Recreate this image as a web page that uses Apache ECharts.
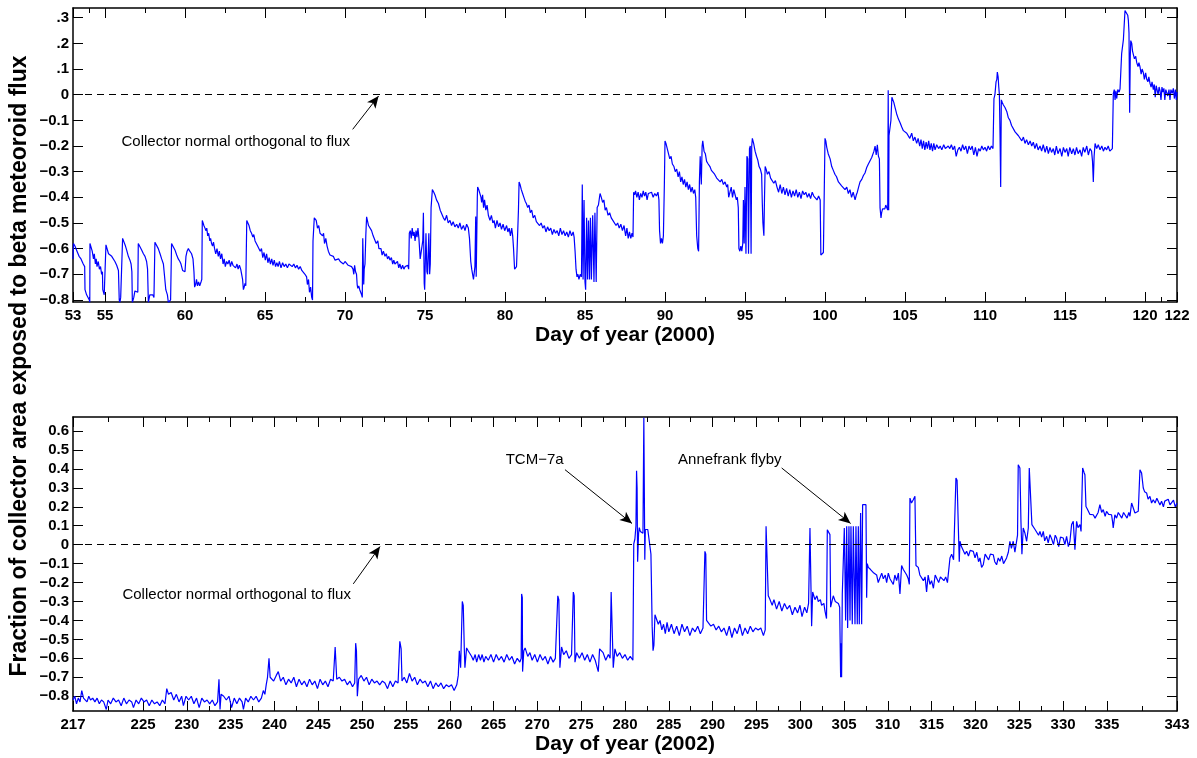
<!DOCTYPE html>
<html>
<head>
<meta charset="utf-8">
<script src="https://cdn.jsdelivr.net/npm/echarts@6/dist/echarts.min.js"></script>
<style>
html,body{margin:0;padding:0;background:#fff;}
#chart{width:1197px;height:758px;}
</style>
</head>
<body>
<div id="chart"></div>
<script>
// day of year 2000 -> fraction of collector area exposed
var top2000 = [
[53.00,-0.64],[53.03,-0.58],[53.12,-0.59],[53.25,-0.61],[53.38,-0.63],[53.5,-0.64],[53.64,-0.66],[53.73,-0.67],[53.75,-0.76],[53.85,-0.78],[53.95,-0.78],[54.02,-0.80],[54.05,-0.81],
[54.06,-0.58],[54.12,-0.58],[54.2,-0.61],[54.28,-0.64],[54.33,-0.62],[54.4,-0.66],[54.45,-0.64],[54.5,-0.67],[54.58,-0.65],[54.65,-0.68],[54.72,-0.67],[54.79,-0.70],[54.84,-0.69],[54.86,-0.76],[54.95,-0.78],[55.02,-0.775],
[55.06,-0.585],[55.12,-0.59],[55.22,-0.62],[55.31,-0.62],[55.42,-0.63],[55.52,-0.635],[55.62,-0.65],[55.73,-0.665],[55.84,-0.685],[55.89,-0.80],[55.93,-0.81],[55.98,-0.79],[56.06,-0.79],
[56.1,-0.56],[56.16,-0.565],[56.28,-0.59],[56.35,-0.605],[56.46,-0.63],[56.56,-0.645],[56.63,-0.66],[56.68,-0.69],[56.71,-0.81],[56.8,-0.79],[56.87,-0.765],[56.98,-0.765],[57.05,-0.77],
[57.08,-0.58],[57.14,-0.58],[57.29,-0.605],[57.4,-0.62],[57.5,-0.63],[57.6,-0.65],[57.66,-0.68],[57.71,-0.81],[57.8,-0.78],[57.9,-0.785],[57.98,-0.78],[58.06,-0.79],
[58.12,-0.575],[58.18,-0.58],[58.33,-0.60],[58.44,-0.62],[58.54,-0.64],[58.65,-0.66],[58.71,-0.70],[58.8,-0.76],[58.9,-0.78],[58.96,-0.81],[59.1,-0.80],
[59.16,-0.58],[59.25,-0.585],[59.37,-0.605],[59.48,-0.625],[59.58,-0.64],[59.68,-0.65],[59.75,-0.66],[59.85,-0.685],[59.95,-0.69],[60.0,-0.69],[60.06,-0.63],[60.13,-0.61],[60.21,-0.60],[60.3,-0.61],[60.41,-0.62],[60.5,-0.64],[60.56,-0.69],[60.6,-0.75],[60.66,-0.74],[60.72,-0.72],[60.78,-0.745],[60.85,-0.73],[60.92,-0.745],[61.0,-0.73],[61.05,-0.72],
[61.08,-0.49],[61.12,-0.49],[61.18,-0.51],[61.25,-0.52],[61.3,-0.53],[61.36,-0.52],[61.42,-0.55],[61.48,-0.54],[61.55,-0.57],[61.6,-0.56],[61.66,-0.58],[61.72,-0.59],[61.78,-0.575],[61.85,-0.60],[61.92,-0.62],[62.0,-0.60],[62.08,-0.63],[62.15,-0.61],[62.22,-0.64],[62.3,-0.62],[62.38,-0.66],[62.45,-0.64],[62.52,-0.67],[62.6,-0.65],[62.68,-0.66],[62.76,-0.645],[62.84,-0.67],[62.92,-0.65],[63.0,-0.665],[63.08,-0.66],[63.16,-0.675],[63.25,-0.66],[63.32,-0.68],[63.4,-0.665],[63.48,-0.68],[63.55,-0.675],[63.6,-0.72],[63.65,-0.76],[63.7,-0.75],[63.75,-0.735],[63.8,-0.745],
[63.86,-0.49],[63.92,-0.49],[64.0,-0.51],[64.08,-0.53],[64.16,-0.54],[64.24,-0.555],[64.3,-0.545],[64.38,-0.57],[64.46,-0.565],[64.54,-0.59],[64.62,-0.585],[64.7,-0.61],[64.78,-0.60],[64.86,-0.635],[64.94,-0.615],[65.02,-0.645],[65.1,-0.62],[65.18,-0.655],[65.26,-0.635],[65.34,-0.66],[65.42,-0.64],[65.5,-0.665],[65.58,-0.645],[65.66,-0.67],[65.74,-0.655],[65.82,-0.67],[65.9,-0.65],[66.0,-0.675],[66.1,-0.655],[66.2,-0.67],[66.3,-0.66],[66.4,-0.675],[66.5,-0.66],[66.6,-0.665],[66.7,-0.67],[66.8,-0.66],[66.9,-0.675],[67.0,-0.665],[67.1,-0.68],[67.2,-0.67],[67.3,-0.685],[67.4,-0.69],[67.5,-0.70],[67.6,-0.71],[67.65,-0.74],[67.72,-0.72],[67.78,-0.77],[67.85,-0.75],[67.92,-0.79],[67.97,-0.80],[68.0,-0.57],[68.04,-0.57],[68.08,-0.48],
[68.12,-0.475],[68.2,-0.49],[68.28,-0.52],[68.36,-0.51],[68.44,-0.54],[68.52,-0.535],[68.6,-0.55],[68.66,-0.54],[68.72,-0.58],[68.8,-0.56],[68.88,-0.59],[68.96,-0.61],[69.06,-0.625],[69.15,-0.62],[69.27,-0.63],[69.38,-0.645],[69.48,-0.65],[69.6,-0.64],[69.7,-0.65],[69.79,-0.645],[69.9,-0.66],[70.0,-0.65],[70.1,-0.655],[70.2,-0.665],[70.3,-0.67],[70.41,-0.67],[70.5,-0.68],[70.55,-0.70],[70.6,-0.665],[70.66,-0.69],[70.72,-0.70],[70.76,-0.74],[70.8,-0.755],[70.86,-0.745],[70.92,-0.76],[70.98,-0.765],[71.04,-0.78],[71.08,-0.79],[71.11,-0.56],[71.17,-0.74],[71.2,-0.68],[71.25,-0.66],[71.3,-0.55],[71.35,-0.476],
[71.4,-0.48],[71.47,-0.51],[71.56,-0.515],[71.66,-0.53],[71.76,-0.55],[71.87,-0.555],[71.95,-0.58],[72.05,-0.57],[72.12,-0.60],[72.18,-0.595],[72.25,-0.60],[72.32,-0.625],[72.4,-0.61],[72.5,-0.63],[72.58,-0.62],[72.66,-0.64],[72.74,-0.63],[72.81,-0.645],[72.9,-0.635],[72.98,-0.66],[73.05,-0.645],[73.12,-0.66],[73.2,-0.665],[73.28,-0.65],[73.36,-0.675],[73.43,-0.66],[73.52,-0.68],[73.6,-0.665],[73.68,-0.68],[73.76,-0.67],[73.84,-0.675],[73.92,-0.665],[73.98,-0.68],
[74.02,-0.54],[74.08,-0.53],[74.14,-0.56],[74.2,-0.52],[74.26,-0.55],[74.32,-0.535],[74.38,-0.57],[74.44,-0.53],[74.5,-0.555],[74.56,-0.52],[74.62,-0.56],[74.66,-0.60],[74.7,-0.64],[74.78,-0.645],[74.86,-0.57],[74.9,-0.46],[74.95,-0.735],[74.98,-0.76],[75.06,-0.54],[75.12,-0.69],[75.16,-0.70],[75.24,-0.54],[75.29,-0.70],[75.33,-0.66],[75.38,-0.44],[75.46,-0.37],
[75.55,-0.38],[75.63,-0.392],[75.72,-0.41],[75.84,-0.424],[75.95,-0.45],[76.04,-0.45],[76.15,-0.48],[76.25,-0.49],[76.35,-0.47],[76.45,-0.50],[76.56,-0.49],[76.66,-0.51],[76.76,-0.495],[76.87,-0.515],[76.98,-0.505],[77.08,-0.52],[77.18,-0.50],[77.28,-0.525],[77.4,-0.51],[77.5,-0.53],[77.6,-0.505],[77.71,-0.52],[77.78,-0.56],[77.83,-0.56],[77.86,-0.65],[77.92,-0.68],[77.98,-0.68],[78.03,-0.72],[78.06,-0.72],[78.12,-0.67],[78.17,-0.475],[78.2,-0.71],[78.23,-0.71],[78.27,-0.40],[78.29,-0.36],[78.36,-0.37],[78.44,-0.366],[78.5,-0.40],[78.54,-0.42],[78.6,-0.39],[78.66,-0.44],[78.72,-0.41],[78.8,-0.45],[78.88,-0.43],[78.96,-0.47],[79.06,-0.49],[79.15,-0.47],[79.24,-0.50],[79.32,-0.49],[79.4,-0.52],[79.5,-0.49],[79.6,-0.515],[79.69,-0.50],[79.78,-0.525],[79.88,-0.505],[79.98,-0.53],[80.1,-0.51],[80.18,-0.535],[80.26,-0.52],[80.34,-0.55],[80.42,-0.52],[80.48,-0.55],[80.53,-0.595],[80.6,-0.68],[80.66,-0.68],[80.72,-0.67],[80.79,-0.675],[80.84,-0.45],[80.88,-0.34],[80.94,-0.35],[81.02,-0.37],[81.1,-0.385],[81.18,-0.40],[81.26,-0.415],[81.34,-0.425],[81.42,-0.44],[81.5,-0.43],[81.58,-0.46],[81.67,-0.45],[81.76,-0.48],[81.86,-0.47],[81.96,-0.495],[82.06,-0.49],[82.16,-0.51],[82.26,-0.50],[82.36,-0.52],[82.46,-0.51],[82.56,-0.535],[82.66,-0.515],[82.76,-0.53],[82.86,-0.52],[82.96,-0.545],[83.06,-0.525],[83.16,-0.54],[83.26,-0.53],[83.36,-0.55],[83.46,-0.52],[83.56,-0.545],[83.66,-0.53],[83.76,-0.55],[83.86,-0.535],[83.96,-0.555],[84.06,-0.53],[84.16,-0.55],[84.26,-0.535],[84.32,-0.555],[84.38,-0.61],
[84.44,-0.68],[84.5,-0.71],[84.56,-0.70],[84.62,-0.72],[84.7,-0.70],[84.78,-0.71],[84.83,-0.35],[84.88,-0.72],[84.94,-0.41],[85.0,-0.73],[85.04,-0.76],[85.1,-0.48],[85.16,-0.72],[85.22,-0.49],[85.28,-0.72],[85.34,-0.48],[85.4,-0.72],[85.48,-0.47],[85.56,-0.73],[85.62,-0.46],[85.7,-0.73],[85.76,-0.44],[85.84,-0.43],[85.94,-0.385],
[86.02,-0.40],[86.1,-0.42],[86.18,-0.41],[86.26,-0.45],[86.34,-0.44],[86.44,-0.47],[86.54,-0.46],[86.64,-0.48],[86.74,-0.49],[86.84,-0.485],[86.94,-0.51],[87.04,-0.50],[87.14,-0.52],[87.24,-0.505],[87.34,-0.53],[87.44,-0.51],[87.54,-0.55],[87.62,-0.52],[87.7,-0.56],[87.78,-0.535],[87.86,-0.56],[87.94,-0.54],[88.0,-0.555],
[88.04,-0.38],[88.1,-0.39],[88.16,-0.375],[88.24,-0.40],[88.32,-0.38],[88.4,-0.41],[88.48,-0.385],[88.56,-0.40],[88.64,-0.375],[88.72,-0.395],[88.8,-0.38],[88.88,-0.41],[88.96,-0.385],[89.06,-0.39],[89.16,-0.38],[89.26,-0.40],[89.36,-0.385],[89.46,-0.395],[89.56,-0.38],[89.62,-0.41],[89.66,-0.53],[89.72,-0.58],[89.78,-0.56],[89.84,-0.58],[89.9,-0.55],[89.96,-0.35],
[90.0,-0.18],[90.06,-0.19],[90.14,-0.21],[90.21,-0.205],[90.3,-0.25],[90.38,-0.24],[90.46,-0.27],[90.56,-0.28],[90.64,-0.30],[90.73,-0.29],[90.82,-0.32],[90.9,-0.30],[90.98,-0.34],[91.06,-0.32],[91.14,-0.35],[91.22,-0.33],[91.3,-0.36],[91.38,-0.34],[91.46,-0.37],[91.54,-0.35],[91.62,-0.38],[91.7,-0.36],[91.78,-0.385],[91.86,-0.37],[91.92,-0.40],[91.98,-0.55],[92.05,-0.60],[92.1,-0.61],[92.15,-0.34],[92.2,-0.24],[92.27,-0.35],[92.32,-0.20],[92.36,-0.18],
[92.44,-0.22],[92.52,-0.23],[92.6,-0.26],[92.7,-0.27],[92.81,-0.28],[92.9,-0.295],[93.0,-0.30],[93.1,-0.31],[93.23,-0.325],[93.34,-0.32],[93.45,-0.34],[93.55,-0.33],[93.65,-0.35],[93.75,-0.34],[93.86,-0.36],[93.92,-0.35],[93.98,-0.40],[94.06,-0.38],[94.14,-0.36],[94.22,-0.40],[94.3,-0.37],[94.38,-0.39],[94.46,-0.41],[94.52,-0.40],[94.58,-0.44],[94.62,-0.60],[94.68,-0.61],[94.74,-0.59],[94.8,-0.61],[94.86,-0.58],[94.9,-0.41],[94.95,-0.58],[95.0,-0.36],[95.06,-0.62],[95.12,-0.24],[95.17,-0.25],[95.22,-0.62],[95.28,-0.21],[95.33,-0.20],[95.38,-0.62],[95.42,-0.20],[95.46,-0.17],
[95.54,-0.19],[95.63,-0.22],[95.72,-0.24],[95.8,-0.255],[95.88,-0.28],[95.96,-0.29],[96.04,-0.31],[96.08,-0.42],[96.12,-0.50],[96.18,-0.55],[96.22,-0.40],[96.26,-0.28],[96.32,-0.29],[96.4,-0.31],[96.5,-0.30],[96.6,-0.325],[96.7,-0.33],[96.8,-0.345],[96.9,-0.335],[97.0,-0.36],[97.1,-0.38],[97.2,-0.35],[97.3,-0.385],[97.4,-0.36],[97.5,-0.39],[97.6,-0.365],[97.7,-0.395],[97.8,-0.37],[97.9,-0.40],[98.0,-0.375],[98.1,-0.395],[98.2,-0.37],[98.3,-0.40],[98.4,-0.38],[98.5,-0.405],[98.6,-0.375],[98.7,-0.39],[98.8,-0.38],[98.9,-0.40],[99.0,-0.385],[99.1,-0.405],[99.2,-0.38],[99.3,-0.395],[99.4,-0.39],[99.5,-0.41],[99.6,-0.395],[99.7,-0.41],[99.74,-0.625],[99.82,-0.625],[99.9,-0.615],[99.96,-0.61],
[100.0,-0.17],[100.05,-0.18],[100.11,-0.205],[100.2,-0.23],[100.32,-0.25],[100.42,-0.28],[100.52,-0.295],[100.62,-0.31],[100.72,-0.32],[100.84,-0.34],[100.94,-0.335],[101.04,-0.355],[101.15,-0.35],[101.25,-0.37],[101.36,-0.36],[101.46,-0.385],[101.56,-0.37],[101.66,-0.40],[101.76,-0.38],[101.88,-0.41],[101.96,-0.39],[102.02,-0.38],[102.1,-0.36],[102.19,-0.34],[102.3,-0.33],[102.4,-0.315],[102.5,-0.305],[102.6,-0.285],[102.71,-0.27],[102.8,-0.265],[102.92,-0.245],[103.0,-0.24],[103.06,-0.22],[103.13,-0.20],[103.2,-0.235],[103.27,-0.195],[103.34,-0.24],[103.4,-0.25],[103.44,-0.44],[103.5,-0.48],[103.54,-0.46],[103.6,-0.445],[103.66,-0.44],[103.74,-0.445],[103.8,-0.43],[103.86,-0.44],[103.92,-0.45],[103.95,0.017],[103.98,-0.45],[104.0,-0.16],[104.06,-0.165],[104.12,-0.10],[104.18,-0.01],
[104.23,-0.01],[104.3,-0.03],[104.38,-0.05],[104.48,-0.075],[104.59,-0.095],[104.7,-0.11],[104.79,-0.125],[104.9,-0.14],[105.0,-0.135],[105.11,-0.15],[105.2,-0.145],[105.3,-0.17],[105.42,-0.15],[105.52,-0.18],[105.62,-0.165],[105.73,-0.19],[105.82,-0.17],[105.92,-0.20],[106.0,-0.175],[106.08,-0.21],[106.16,-0.18],[106.24,-0.215],[106.32,-0.185],[106.4,-0.21],[106.48,-0.18],[106.56,-0.215],[106.64,-0.19],[106.72,-0.22],[106.8,-0.19],[106.88,-0.215],[106.98,-0.195],[107.1,-0.21],[107.2,-0.20],[107.3,-0.215],[107.42,-0.195],[107.52,-0.21],[107.61,-0.205],[107.7,-0.20],[107.8,-0.21],[107.9,-0.195],[108.0,-0.215],[108.1,-0.20],[108.2,-0.24],[108.3,-0.215],[108.4,-0.205],[108.5,-0.22],[108.6,-0.195],[108.7,-0.215],[108.8,-0.20],[108.9,-0.23],[109.0,-0.20],[109.1,-0.215],[109.2,-0.20],[109.3,-0.235],[109.4,-0.205],[109.5,-0.24],[109.6,-0.21],[109.7,-0.22],[109.8,-0.20],[109.9,-0.215],[110.0,-0.205],[110.1,-0.22],[110.2,-0.20],[110.3,-0.215],[110.4,-0.20],[110.5,-0.21],
[110.56,-0.015],[110.62,0.0],[110.69,0.05],[110.74,0.06],[110.77,0.088],[110.82,0.07],[110.86,0.03],[110.9,0.0],[110.94,-0.16],[110.98,-0.36],[111.02,-0.02],[111.08,-0.03],[111.15,-0.04],[111.25,-0.05],[111.36,-0.065],[111.46,-0.09],[111.56,-0.10],[111.66,-0.12],[111.77,-0.125],[111.88,-0.145],[111.98,-0.14],[112.09,-0.16],[112.2,-0.155],[112.3,-0.18],[112.4,-0.165],[112.5,-0.19],[112.6,-0.175],[112.71,-0.195],[112.82,-0.18],[112.92,-0.20],[113.02,-0.185],[113.12,-0.21],[113.22,-0.19],[113.32,-0.215],[113.44,-0.20],[113.54,-0.22],[113.64,-0.195],[113.76,-0.225],[113.86,-0.20],[113.96,-0.23],[114.06,-0.205],[114.16,-0.225],[114.27,-0.21],[114.36,-0.235],[114.46,-0.20],[114.56,-0.23],[114.69,-0.21],[114.8,-0.24],[114.9,-0.205],[115.0,-0.225],[115.11,-0.21],[115.2,-0.24],[115.3,-0.205],[115.42,-0.23],[115.52,-0.21],[115.62,-0.235],[115.72,-0.205],[115.82,-0.23],[115.94,-0.215],[116.04,-0.24],[116.14,-0.205],[116.24,-0.225],[116.36,-0.20],[116.46,-0.235],[116.56,-0.21],[116.66,-0.22],[116.72,-0.26],[116.77,-0.34],[116.82,-0.24],[116.88,-0.19],[116.98,-0.21],[117.08,-0.195],[117.19,-0.215],[117.3,-0.20],[117.4,-0.22],[117.5,-0.205],[117.6,-0.215],[117.7,-0.20],[117.8,-0.22],[117.9,-0.225],[117.96,-0.21],
[118.02,0.004],[118.08,0.02],[118.13,-0.02],[118.18,0.015],[118.23,-0.015],[118.3,0.02],[118.38,0.01],[118.44,0.023],[118.54,0.16],[118.65,0.215],[118.75,0.328],[118.8,0.334],[118.86,0.334],[118.92,0.31],[118.96,0.29],[119.0,0.24],[119.04,-0.07],[119.08,0.15],[119.11,0.211],[119.17,0.20],[119.22,0.17],[119.27,0.172],[119.34,0.14],[119.42,0.15],[119.48,0.126],[119.56,0.11],[119.62,0.125],[119.69,0.108],[119.76,0.08],[119.82,0.10],[119.9,0.085],[119.96,0.06],[120.04,0.085],[120.11,0.06],[120.18,0.05],[120.24,0.07],[120.31,0.045],[120.38,0.03],[120.44,0.05],[120.52,0.02],[120.58,0.04],[120.64,-0.01],[120.7,0.035],[120.76,0.03],[120.82,0.0],[120.88,0.03],[120.94,0.015],[121.0,-0.02],[121.06,0.03],[121.12,0.01],[121.18,0.025],[121.24,-0.02],[121.3,0.02],[121.36,0.025],[121.42,-0.005],[121.5,0.02],[121.56,-0.02],[121.62,0.02],[121.7,0.005],[121.77,0.025],[121.84,-0.015],[121.9,0.02],[121.96,-0.02],[122.0,0.01]
];

// day of year 2002 -> fraction of collector area exposed
var bot2002 = [
[217.0,-0.82],[217.2,-0.80],[217.4,-0.84],[217.6,-0.81],[217.8,-0.83],[218.0,-0.77],[218.2,-0.81],[218.4,-0.80],[218.6,-0.83],[218.8,-0.80],[219.0,-0.82],[219.25,-0.81],[219.5,-0.83],[219.75,-0.81],[220.0,-0.84],[220.25,-0.82],[220.5,-0.83],[220.8,-0.87],[221.0,-0.82],[221.3,-0.84],[221.6,-0.81],[221.9,-0.83],[222.2,-0.82],[222.5,-0.85],[222.8,-0.81],[223.1,-0.84],[223.4,-0.82],[223.7,-0.83],[223.9,-0.86],[224.2,-0.82],[224.5,-0.84],[224.8,-0.81],[225.1,-0.83],[225.4,-0.82],[225.7,-0.85],[226.0,-0.82],[226.3,-0.84],[226.6,-0.83],[226.9,-0.85],[227.2,-0.82],[227.5,-0.84],[227.7,-0.76],[227.9,-0.79],[228.2,-0.78],[228.5,-0.82],[228.8,-0.79],[229.1,-0.83],[229.4,-0.80],[229.6,-0.85],[229.9,-0.80],[230.2,-0.82],[230.5,-0.80],[230.8,-0.84],[231.1,-0.81],[231.4,-0.86],[231.7,-0.81],[232.0,-0.83],[232.3,-0.82],[232.6,-0.84],[232.9,-0.82],[233.2,-0.85],[233.5,-0.83],[233.66,-0.71],[233.78,-0.87],[233.9,-0.79],[234.2,-0.80],[234.5,-0.82],[234.8,-0.80],[235.1,-0.86],[235.4,-0.81],[235.7,-0.84],[236.0,-0.81],[236.3,-0.83],[236.45,-0.87],[236.7,-0.81],[237.0,-0.83],[237.3,-0.80],[237.6,-0.82],[237.9,-0.80],[238.2,-0.83],[238.5,-0.81],[238.72,-0.77],[238.9,-0.79],[239.05,-0.74],[239.2,-0.70],[239.37,-0.60],[239.5,-0.70],[239.7,-0.71],[239.9,-0.72],[240.2,-0.69],[240.43,-0.67],[240.7,-0.72],[241.0,-0.70],[241.3,-0.74],[241.6,-0.71],[241.9,-0.73],[242.2,-0.70],[242.5,-0.75],[242.8,-0.71],[243.1,-0.74],[243.4,-0.72],[243.7,-0.75],[244.0,-0.71],[244.3,-0.74],[244.6,-0.72],[244.9,-0.76],[245.2,-0.71],[245.5,-0.74],[245.8,-0.72],[246.1,-0.75],[246.4,-0.71],[246.7,-0.72],[246.85,-0.71],[246.92,-0.54],[247.05,-0.55],[247.1,-0.71],[247.4,-0.70],[247.7,-0.72],[248.0,-0.71],[248.3,-0.74],[248.6,-0.72],[248.9,-0.75],[249.15,-0.73],[249.26,-0.52],[249.35,-0.56],[249.45,-0.80],[249.6,-0.71],[249.9,-0.69],[250.2,-0.72],[250.5,-0.70],[250.8,-0.74],[251.1,-0.71],[251.4,-0.73],[251.7,-0.72],[252.0,-0.74],[252.3,-0.72],[252.6,-0.73],[252.9,-0.76],[253.2,-0.72],[253.5,-0.75],[253.8,-0.72],[254.1,-0.73],[254.3,-0.51],[254.45,-0.55],[254.55,-0.72],[254.8,-0.70],[255.1,-0.73],[255.4,-0.68],[255.7,-0.72],[256.0,-0.70],[256.3,-0.74],[256.6,-0.71],[256.9,-0.73],[257.2,-0.72],[257.5,-0.75],[257.8,-0.72],[258.1,-0.76],[258.4,-0.73],[258.7,-0.75],[259.0,-0.73],[259.3,-0.76],[259.6,-0.74],[259.9,-0.75],[260.2,-0.74],[260.5,-0.77],[260.6,-0.78],[260.8,-0.74],[260.97,-0.69],[261.09,-0.56],[261.24,-0.65],[261.43,-0.30],[261.54,-0.32],[261.66,-0.55],[261.73,-0.65],[261.92,-0.545],[262.1,-0.56],[262.3,-0.565],[262.5,-0.59],[262.68,-0.61],[262.9,-0.58],[263.07,-0.62],[263.3,-0.58],[263.5,-0.61],[263.7,-0.58],[263.9,-0.62],[264.1,-0.59],[264.4,-0.61],[264.7,-0.58],[265.0,-0.62],[265.3,-0.58],[265.6,-0.61],[265.9,-0.59],[266.2,-0.62],[266.5,-0.58],[266.8,-0.61],[267.1,-0.59],[267.4,-0.63],[267.7,-0.60],[268.0,-0.62],[268.15,-0.60],[268.2,-0.26],[268.28,-0.28],[268.31,-0.67],[268.45,-0.56],[268.6,-0.545],[268.9,-0.59],[269.15,-0.57],[269.4,-0.61],[269.7,-0.58],[270.0,-0.62],[270.3,-0.58],[270.6,-0.61],[270.9,-0.59],[271.2,-0.63],[271.5,-0.59],[271.8,-0.62],[272.05,-0.60],[272.2,-0.61],[272.33,-0.27],[272.45,-0.29],[272.57,-0.65],[272.76,-0.54],[273.0,-0.58],[273.3,-0.56],[273.6,-0.60],[273.9,-0.58],[274.05,-0.59],[274.1,-0.25],[274.2,-0.27],[274.29,-0.62],[274.48,-0.57],[274.8,-0.60],[275.1,-0.57],[275.4,-0.61],[275.7,-0.58],[276.0,-0.62],[276.3,-0.58],[276.6,-0.61],[276.95,-0.67],[277.1,-0.55],[277.5,-0.57],[277.8,-0.61],[278.1,-0.58],[278.3,-0.60],[278.42,-0.25],[278.52,-0.26],[278.66,-0.65],[278.85,-0.55],[279.1,-0.59],[279.4,-0.57],[279.7,-0.60],[280.0,-0.58],[280.3,-0.61],[280.6,-0.59],[280.9,-0.61],[281.0,0.004],[281.13,0.03],[281.25,0.10],[281.32,0.39],[281.38,0.30],[281.44,-0.09],[281.55,0.06],[281.63,0.09],[281.75,0.07],[281.89,0.08],[282.05,0.06],[282.12,0.06],[282.15,0.67],[282.2,0.67],[282.26,-0.08],[282.32,0.08],[282.45,0.07],[282.6,0.08],[282.8,0.07],[282.96,-0.05],[283.05,-0.05],[283.1,-0.43],[283.2,-0.56],[283.3,-0.53],[283.42,-0.37],[283.6,-0.38],[283.8,-0.42],[284.0,-0.40],[284.2,-0.45],[284.4,-0.42],[284.6,-0.47],[284.8,-0.41],[285.0,-0.46],[285.3,-0.42],[285.6,-0.47],[285.9,-0.43],[286.2,-0.48],[286.5,-0.42],[286.8,-0.46],[287.1,-0.43],[287.4,-0.48],[287.7,-0.44],[288.0,-0.46],[288.3,-0.43],[288.6,-0.47],[288.9,-0.44],[289.05,-0.45],[289.12,-0.035],[289.22,-0.05],[289.31,-0.40],[289.5,-0.41],[289.8,-0.43],[290.1,-0.42],[290.4,-0.45],[290.7,-0.43],[291.0,-0.46],[291.3,-0.44],[291.6,-0.48],[291.9,-0.43],[292.2,-0.49],[292.5,-0.44],[292.8,-0.47],[293.1,-0.42],[293.4,-0.48],[293.7,-0.44],[294.0,-0.47],[294.3,-0.43],[294.6,-0.46],[294.9,-0.44],[295.2,-0.45],[295.5,-0.44],[295.8,-0.48],[296.0,-0.45],[296.1,0.097],[296.22,0.09],[296.35,-0.27],[296.55,-0.29],[296.8,-0.32],[297.0,-0.29],[297.3,-0.34],[297.6,-0.30],[297.9,-0.35],[298.2,-0.31],[298.5,-0.34],[298.8,-0.32],[299.1,-0.37],[299.4,-0.33],[299.7,-0.36],[299.97,-0.32],[300.2,-0.38],[300.5,-0.33],[300.75,-0.36],[300.95,-0.31],[301.05,-0.30],[301.11,0.088],[301.2,0.08],[301.3,-0.43],[301.42,-0.25],[301.68,-0.29],[301.9,-0.27],[302.06,-0.30],[302.3,-0.29],[302.44,-0.32],[302.7,-0.31],[302.82,-0.35],[303.0,-0.39],[303.09,0.079],[303.25,0.07],[303.39,0.053],[303.47,-0.33],[303.77,-0.27],[304.0,-0.30],[304.15,-0.29],[304.35,-0.31],[304.5,-0.33],[304.61,-0.70],[304.66,-0.52],[304.72,-0.70],[304.8,-0.26],[304.91,-0.255],[305.03,0.088],[305.18,-0.40],[305.3,0.097],[305.41,-0.44],[305.56,0.097],[305.68,-0.40],[305.79,0.097],[305.94,-0.42],[306.06,0.097],[306.25,-0.42],[306.36,0.097],[306.51,-0.42],[306.63,0.097],[306.74,-0.42],[306.89,0.167],[307.01,-0.42],[307.12,0.211],[307.5,0.211],[307.58,-0.28],[307.65,-0.10],[307.77,-0.12],[308.0,-0.13],[308.15,-0.14],[308.4,-0.15],[308.72,-0.16],[308.9,-0.20],[309.1,-0.21],[309.3,-0.15],[309.48,-0.18],[309.7,-0.16],[309.86,-0.20],[310.05,-0.15],[310.24,-0.18],[310.45,-0.17],[310.62,-0.21],[310.8,-0.16],[311.0,-0.19],[311.2,-0.15],[311.38,-0.26],[311.57,-0.11],[311.75,-0.13],[311.95,-0.14],[312.15,-0.16],[312.33,-0.18],[312.45,-0.21],[312.52,0.246],[312.7,0.22],[312.9,0.237],[313.09,0.255],[313.21,-0.11],[313.47,-0.12],[313.65,-0.16],[313.85,-0.15],[314.05,-0.19],[314.25,-0.17],[314.42,-0.25],[314.6,-0.16],[314.8,-0.21],[314.99,-0.19],[315.2,-0.23],[315.4,-0.16],[315.57,-0.17],[315.8,-0.20],[316.0,-0.17],[316.14,-0.18],[316.4,-0.19],[316.6,-0.17],[316.8,-0.20],[316.97,-0.20],[317.09,-0.07],[317.28,-0.05],[317.5,-0.08],[317.66,-0.09],[317.77,0.352],[317.9,0.34],[318.04,0.334],[318.15,-0.09],[318.23,0.018],[318.4,-0.01],[318.61,-0.018],[318.8,-0.05],[318.99,-0.035],[319.2,-0.06],[319.4,-0.03],[319.75,-0.035],[319.95,-0.07],[320.15,-0.04],[320.35,-0.09],[320.51,-0.07],[320.7,-0.12],[320.89,-0.106],[321.1,-0.05],[321.27,-0.053],[321.5,-0.08],[321.7,-0.05],[322.03,-0.053],[322.2,-0.09],[322.41,-0.106],[322.6,-0.07],[322.79,-0.088],[323.0,-0.06],[323.2,-0.10],[323.55,-0.07],[323.75,-0.04],[323.93,0.018],[324.1,-0.02],[324.31,0.018],[324.5,-0.04],[324.69,-0.035],[324.8,0.05],[324.88,0.422],[325.07,0.405],[325.19,0.123],[325.3,-0.05],[325.45,0.088],[325.65,0.06],[325.84,0.018],[326.03,0.088],[326.14,0.405],[326.33,0.396],[326.44,0.106],[326.6,0.114],[326.8,0.08],[326.98,0.088],[327.2,0.05],[327.36,0.07],[327.55,0.04],[327.74,0.07],[327.9,0.02],[328.12,0.044],[328.3,0.01],[328.5,0.053],[328.7,0.03],[328.9,0.0],[329.1,0.05],[329.26,0.035],[329.5,-0.01],[329.7,0.04],[330.02,0.035],[330.2,0.0],[330.4,0.044],[330.6,-0.01],[330.78,0.018],[330.97,0.106],[331.16,0.123],[331.35,-0.026],[331.54,0.123],[331.7,0.09],[331.92,0.106],[332.05,0.07],[332.11,0.062],[332.23,0.405],[332.4,0.38],[332.49,0.369],[332.61,0.202],[332.75,0.19],[332.87,0.193],[333.05,0.16],[333.25,0.17],[333.44,0.158],[333.65,0.14],[333.82,0.15],[334.0,0.17],[334.2,0.211],[334.4,0.17],[334.58,0.185],[334.8,0.15],[334.96,0.176],[335.2,0.16],[335.4,0.17],[335.53,0.158],[335.65,0.12],[335.72,0.088],[335.91,0.158],[336.1,0.14],[336.3,0.17],[336.49,0.167],[336.7,0.14],[336.9,0.17],[337.06,0.158],[337.3,0.14],[337.5,0.17],[337.63,0.15],[337.82,0.22],[338.01,0.211],[338.2,0.167],[338.4,0.17],[338.58,0.176],[338.77,0.396],[338.96,0.378],[339.15,0.299],[339.3,0.28],[339.53,0.273],[339.7,0.24],[339.91,0.255],[340.1,0.22],[340.29,0.237],[340.5,0.22],[340.7,0.245],[340.86,0.237],[341.05,0.21],[341.24,0.229],[341.45,0.20],[341.6,0.23],[341.81,0.22],[342.0,0.24],[342.2,0.21],[342.38,0.22],[342.6,0.235],[342.8,0.20],[343.0,0.22]
];

var topXMajor = [53,55,60,65,70,75,80,85,90,95,100,105,110,115,120,122];
var topXMinor = [54,57.5,62.5,67.5,72.5,77.5,82.5,87.5,92.5,97.5,102.5,107.5,112.5,117.5,121];
var topYTicks = [-0.8,-0.7,-0.6,-0.5,-0.4,-0.3,-0.2,-0.1,0,0.1,0.2,0.3];
var topYLabels = ['\u22120.8','\u22120.7','\u22120.6','\u22120.5','\u22120.4','\u22120.3','\u22120.2','\u22120.1','0','.1','.2','.3'];

var botXMajor = [217,225,230,235,240,245,250,255,260,265,270,275,280,285,290,295,300,305,310,315,320,325,330,335,343];
var botXMinor = [221,227.5,232.5,237.5,242.5,247.5,252.5,257.5,262.5,267.5,272.5,277.5,282.5,287.5,292.5,297.5,302.5,307.5,312.5,317.5,322.5,327.5,332.5,339];
var botYTicks = [-0.8,-0.7,-0.6,-0.5,-0.4,-0.3,-0.2,-0.1,0,0.1,0.2,0.3,0.4,0.5,0.6];
var botYLabels = ['\u22120.8','\u22120.7','\u22120.6','\u22120.5','\u22120.4','\u22120.3','\u22120.2','\u22120.1','0','0.1','0.2','0.3','0.4','0.5','0.6'];

var font = '"Liberation Sans", Arial, Helvetica, sans-serif';

function xAx(grid, min, max, pos, ticks, len, labels, name) {
	return {
		type: 'value', gridIndex: grid, min: min, max: max, position: pos,
		axisLine: {show: len > 6, onZero: false, lineStyle: {color: '#000', width: 1.5}},
		axisTick: {inside: true, length: len, customValues: ticks, lineStyle: {color: '#000', width: 1}},
		axisLabel: labels ? {customValues: ticks, color: '#000', fontFamily: font, fontWeight: 'bold', fontSize: 15, margin: 6} : {show: false},
		splitLine: {show: false},
		name: name || '', nameLocation: 'middle', nameGap: 23,
		nameTextStyle: {color: '#000', fontFamily: font, fontWeight: 'bold', fontSize: 21}
	};
}

function yAx(grid, min, max, pos, ticks, labs) {
	return {
		type: 'value', gridIndex: grid, min: min, max: max, position: pos,
		axisLine: {show: true, onZero: false, lineStyle: {color: '#000', width: 1.5}},
		axisTick: {inside: true, length: 10, customValues: ticks, lineStyle: {color: '#000', width: 1}},
		axisLabel: labs ? {
			customValues: ticks, color: '#000', fontFamily: font, fontWeight: 'bold', fontSize: 15, margin: 4,
			formatter: function(v) {
				for (var i = 0; i < ticks.length; i++) {
					if (Math.abs(ticks[i] - v) < 1e-6) return labs[i];
				}
				return '';
			}
		} : {show: false},
		splitLine: {show: false}
	};
}

function marks(texts, arrows) {
	var lines = [{yAxis: 0, lineStyle: {type: [7, 5], color: '#000', width: 1}}];
	arrows.forEach(function(a) {
		lines.push([{coord: a[0], symbol: 'none'}, {coord: a[1], symbol: 'arrow', symbolSize: [8, 12]}]);
	});
	return {
		markLine: {
			silent: true, symbol: ['none', 'none'], label: {show: false},
			lineStyle: {color: '#000', width: 1, type: 'solid'},
			emphasis: {disabled: true},
			data: lines
		},
		markPoint: {
			silent: true, symbol: 'circle', symbolSize: 1,
			itemStyle: {color: 'rgba(0,0,0,0)'},
			label: {show: true, position: 'inside', color: '#000', fontFamily: font, fontSize: 15, formatter: '{b}'},
			data: texts.map(function(t) { return {name: t[0], coord: t[1]}; })
		}
	};
}

var m1 = marks(
	[['Collector normal orthogonal to flux', [63.17, -0.182]]],
	[[[70.48, -0.135], [72.1, -0.005]]]
);
var m2 = marks(
	[['Collector normal orthogonal to flux', [235.68, -0.264]],
	 ['TCM\u22127a', [269.69, 0.449]],
	 ['Annefrank flyby', [291.96, 0.449]]],
	[[[248.99, -0.207], [252.04, -0.01]],
	 [[273.15, 0.396], [280.8, 0.112]],
	 [[297.88, 0.405], [305.75, 0.112]]]
);

var myChart = echarts.init(document.getElementById('chart'));
option = {
	backgroundColor: '#fff',
	animation: false,
	grid: [
		{left: 73, right: 20, top: 8, height: 294, outerBoundsMode: 'none'},
		{left: 73, right: 20, top: 417, height: 294, outerBoundsMode: 'none'}
	],
	xAxis: [
		xAx(0, 53, 122, 'bottom', topXMajor, 10, true, 'Day of year (2000)'),
		xAx(0, 53, 122, 'bottom', topXMinor, 5, false),
		xAx(0, 53, 122, 'top', topXMajor, 10, false),
		xAx(0, 53, 122, 'top', topXMinor, 5, false),
		xAx(1, 217, 343, 'bottom', botXMajor, 10, true, 'Day of year (2002)'),
		xAx(1, 217, 343, 'bottom', botXMinor, 5, false),
		xAx(1, 217, 343, 'top', botXMajor, 10, false),
		xAx(1, 217, 343, 'top', botXMinor, 5, false)
	],
	yAxis: [
		yAx(0, -0.808, 0.338, 'left', topYTicks, topYLabels),
		yAx(0, -0.808, 0.338, 'right', topYTicks, null),
		yAx(1, -0.878, 0.674, 'left', botYTicks, botYLabels),
		yAx(1, -0.878, 0.674, 'right', botYTicks, null)
	],
	graphic: [{
		type: 'text', x: 20, y: 366, rotation: Math.PI / 2,
		style: {
			text: 'Fraction of collector area exposed to beta meteoroid flux',
			fill: '#000', font: 'bold 23px ' + font, align: 'center', verticalAlign: 'middle'
		}
	}],
	series: [
		Object.assign({
			type: 'line', xAxisIndex: 0, yAxisIndex: 0, data: top2000,
			showSymbol: false, symbol: 'none',
			lineStyle: {color: '#0000ff', width: 1.2}, itemStyle: {color: '#0000ff'}
		}, m1),
		Object.assign({
			type: 'line', xAxisIndex: 4, yAxisIndex: 2, data: bot2002,
			showSymbol: false, symbol: 'none',
			lineStyle: {color: '#0000ff', width: 1.2}, itemStyle: {color: '#0000ff'}
		}, m2)
	]
};
myChart.setOption(option);
</script>
</body>
</html>
